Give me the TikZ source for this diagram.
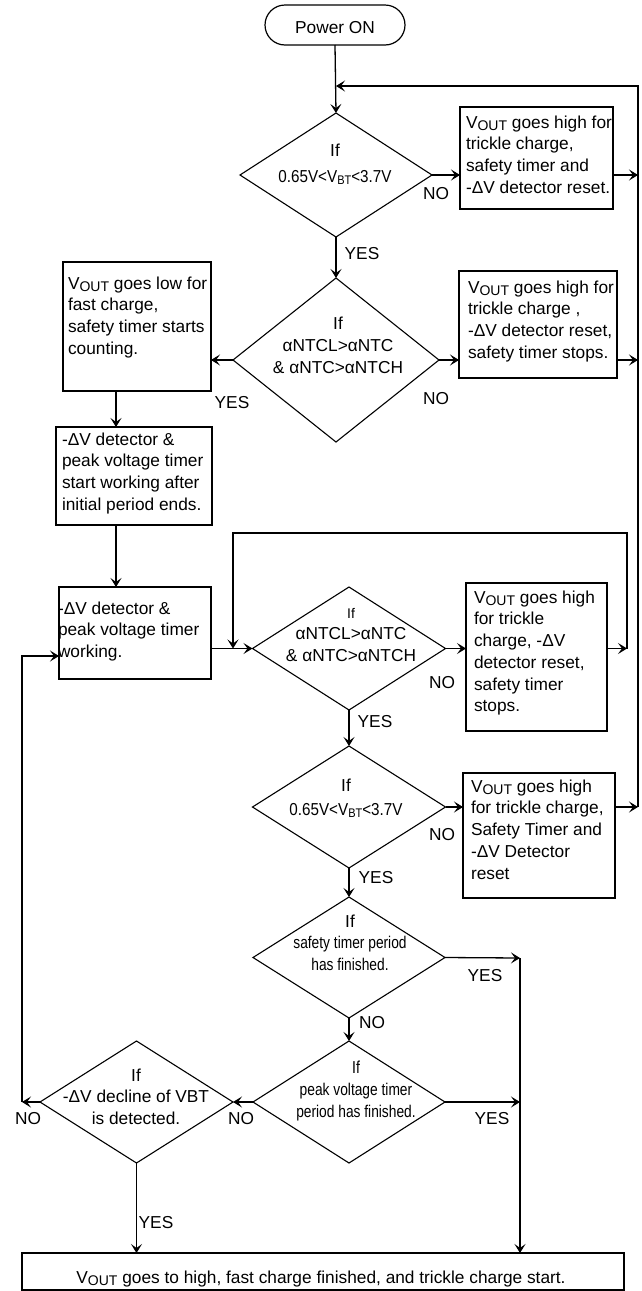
\documentclass[tikz,border=0pt]{standalone}
\usepackage{fontspec}
\setmainfont{Liberation Sans}
\newfontfamily\condfont[FakeStretch=0.88]{Liberation Sans}
\newfontfamily\condfontb[FakeStretch=0.81]{Liberation Sans}
\usetikzlibrary{shapes.geometric,arrows.meta,calc}
\newcommand{\tstrut}{\rule{0pt}{15.2pt}}
\newcommand{\vout}{V\raisebox{-2.5pt}{\fontsize{14}{14}\selectfont OUT}}
\newcommand{\vbt}{V\raisebox{-2.5pt}{\fontsize{12.5}{12.5}\selectfont BT}}
\begin{document}
\begin{tikzpicture}[x=1pt,y=-1pt,
  box/.style={draw, rectangle, line width=1.5pt, inner sep=0pt, outer sep=0pt},
  dia/.style={draw, diamond, line width=1.1pt, inner sep=0pt, outer sep=0pt},
  txt/.style={inner sep=0pt, outer sep=0pt, font=\fontsize{17.3}{21.7}\selectfont},
  btxt/.style={txt, anchor=north west, align=left},
  dtxt/.style={txt, anchor=north, align=center},
  lbl/.style={txt, anchor=center},
  con/.style={line width=1.3pt},
  arr/.style={con, -{Stealth[length=9pt,width=11pt,inset=4pt]}}]
\path[fill=white] (0,0) rectangle (642,1291);
\useasboundingbox (0,0) rectangle (642,1291);

% start
\node[txt, draw, line width=1.2pt, rounded corners=20pt, minimum width=140pt, minimum height=40pt, text height=18pt] (start) at (335,25) {Power ON};

% diamonds
\node[dia, minimum width=192pt, minimum height=124pt] (d1) at (336,175) {};
\node[dia, minimum width=206pt, minimum height=164pt] (d2) at (336,360) {};
\node[dia, minimum width=193pt, minimum height=123pt] (d3) at (349,648.5) {};
\node[dia, minimum width=193pt, minimum height=122pt] (d4) at (349,807) {};
\node[dia, minimum width=192pt, minimum height=121pt] (d5) at (349,957.5) {};
\node[dia, minimum width=192pt, minimum height=122pt] (d6) at (349,1102) {};
\node[dia, minimum width=193pt, minimum height=122pt] (d7) at (136.5,1102) {};

% boxes
\node[box, minimum width=153pt, minimum height=102pt] (r1) at (536.5,158) {};
\node[box, minimum width=148pt, minimum height=129pt] (l1) at (137,326.5) {};
\node[box, minimum width=158pt, minimum height=107pt] (r2) at (538,324.5) {};
\node[box, minimum width=156pt, minimum height=98pt] (l2) at (134,476) {};
\node[box, minimum width=152pt, minimum height=92pt] (l3) at (135,633) {};
\node[box, minimum width=141pt, minimum height=148pt] (r3) at (536.5,657) {};
\node[box, minimum width=152pt, minimum height=125pt] (r4) at (539,835.5) {};
\node[box, minimum width=602pt, minimum height=37pt] (fin) at (323,1271.5) {};

% box texts
\node[btxt] (r1t) at (466,113) {\tstrut\vout{} goes high for\\trickle charge,\\safety timer and\\-ΔV detector reset.};
\node[btxt] (l1t) at (68,274) {\tstrut\vout{} goes low for\\fast charge,\\safety timer starts\\counting.};
\node[btxt] (r2t) at (468,278) {\tstrut\vout{} goes high for\\trickle charge ,\\-ΔV detector reset,\\safety timer stops.};
\node[btxt] (l2t) at (62,430) {\tstrut-ΔV detector \&\\peak voltage timer\\start working after\\initial period ends.};
\node[btxt] (l3t) at (58,599) {\tstrut-ΔV detector \&\\peak voltage timer\\working.};
\node[btxt] (r3t) at (474,588) {\tstrut\vout{} goes high\\for trickle\\charge, -ΔV\\detector reset,\\safety timer\\stops.};
\node[btxt] (r4t) at (471,777) {\tstrut\vout{} goes high\\for trickle charge,\\Safety Timer and\\-ΔV Detector\\reset};
\node[txt, anchor=base] (fint) at (321,1283) {\vout{} goes to high, fast charge finished, and trickle charge start.};

% diamond texts
\node[dtxt, font=\fontsize{17.3}{26}\selectfont] (d1t) at (335,141) {\tstrut If\\{\condfont 0.65V<\vbt<3.7V}};
\node[dtxt, font=\fontsize{17.3}{22}\selectfont] (d2t) at (338,314) {\tstrut If\\αNTCL>αNTC\\\& αNTC>αNTCH};
\node[dtxt, font=\fontsize{17.3}{21.7}\selectfont] (d3t) at (351,603) {\tstrut{\fontsize{14}{21.7}\selectfont If}\\αNTCL>αNTC\\\& αNTC>αNTCH};
\node[dtxt, font=\fontsize{17.3}{24}\selectfont] (d4t) at (346,776) {\tstrut If\\{\condfont 0.65V<\vbt<3.7V}};
\node[dtxt, font=\fontsize{17.3}{21.5}\selectfont] (d5t) at (350,912) {\tstrut If\\{\condfontb\fontsize{17}{21.5}\selectfont safety timer period}\\{\condfontb\fontsize{17}{21.5}\selectfont has finished.}};
\node[dtxt, font=\fontsize{17.3}{22}\selectfont] (d6t) at (356,1058) {\tstrut{\condfontb If}\\{\condfontb\fontsize{17}{22}\selectfont peak voltage timer}\\{\condfontb\fontsize{17}{22}\selectfont period has finished.}};
\node[dtxt, font=\fontsize{17.3}{21.5}\selectfont] (d7t) at (136,1066) {\tstrut If\\-ΔV decline of VBT\\is detected.};

% labels
\node[lbl] (n1) at (436,194) {NO};
\node[lbl] (y1) at (362,254) {YES};
\node[lbl] (y2) at (232,403) {YES};
\node[lbl] (n2) at (436,399) {NO};
\node[lbl] (n3) at (442,683) {NO};
\node[lbl] (y3) at (375,722) {YES};
\node[lbl] (n4) at (442,835) {NO};
\node[lbl] (y4) at (376,878) {YES};
\node[lbl] (y5) at (485,976) {YES};
\node[lbl] (n5) at (372,1023) {NO};
\node[lbl] (y6) at (492,1119) {YES};
\node[lbl] (n6) at (241,1119) {NO};
\node[lbl] (n7) at (28,1119) {NO};
\node[lbl] (y7) at (156,1223) {YES};

% helper coordinates
\coordinate (rt) at (638,86);
\coordinate (rb) at (638,807);
\coordinate (ml) at (627,533);
\coordinate (mlx) at (233,533);
\coordinate (yx) at (520,958);
\coordinate (lp) at (22,1102);
\coordinate (la) at (22,656);
\coordinate (c1) at (116,0);

% connectors
\draw[arr] (start.south) -- (d1.north);
\draw[arr] (rb) -- (rt) -- (rt -| d1.north);
\draw[arr] (d1.east) -- (d1.east -| r1.west);
\draw[arr] (d1.east -| r1.east) -- (d1.east -| rt);
\draw[arr] (d1.south) -- (d2.north);
\draw[arr] (d2.west) -- (d2.west -| l1.east);
\draw[arr] (d2.east) -- (d2.east -| r2.west);
\draw[arr] (d2.east -| r2.east) -- (d2.east -| rt);
\draw[arr] (l1.south -| c1) -- (l2.north -| c1);
\draw[arr] (l2.south -| c1) -- (l3.north -| c1);
\draw[arr] (d3.west -| l3.east) -- (d3.west);
\draw[arr] (d3.east) -- (d3.east -| r3.west);
\draw[arr] (d3.east -| r3.east) -- (d3.east -| ml);
\draw[arr] (d3.east -| ml) -- (ml) -- (mlx) -- (d3.west -| mlx);
\draw[arr] (d3.south) -- (d4.north);
\draw[arr] (d4.east) -- (d4.east -| r4.west);
\draw[arr] (d4.east -| r4.east) -- (rb);
\draw[arr] (d4.south) -- (d5.north);
\draw[arr] (d5.east) -- (yx);
\draw[arr] (yx) -- (fin.north -| yx);
\draw[arr] (d5.south) -- (d6.north);
\draw[arr] (d6.east) -- (d6.east -| yx);
\draw[arr] (d6.west) -- (d7.east);
\draw[arr] (d7.west) -- (lp);
\draw[arr] (lp) -- (la) -- (la -| l3.west);
\draw[arr] (d7.south) -- (d7.south |- fin.north);
\end{tikzpicture}
\end{document}
